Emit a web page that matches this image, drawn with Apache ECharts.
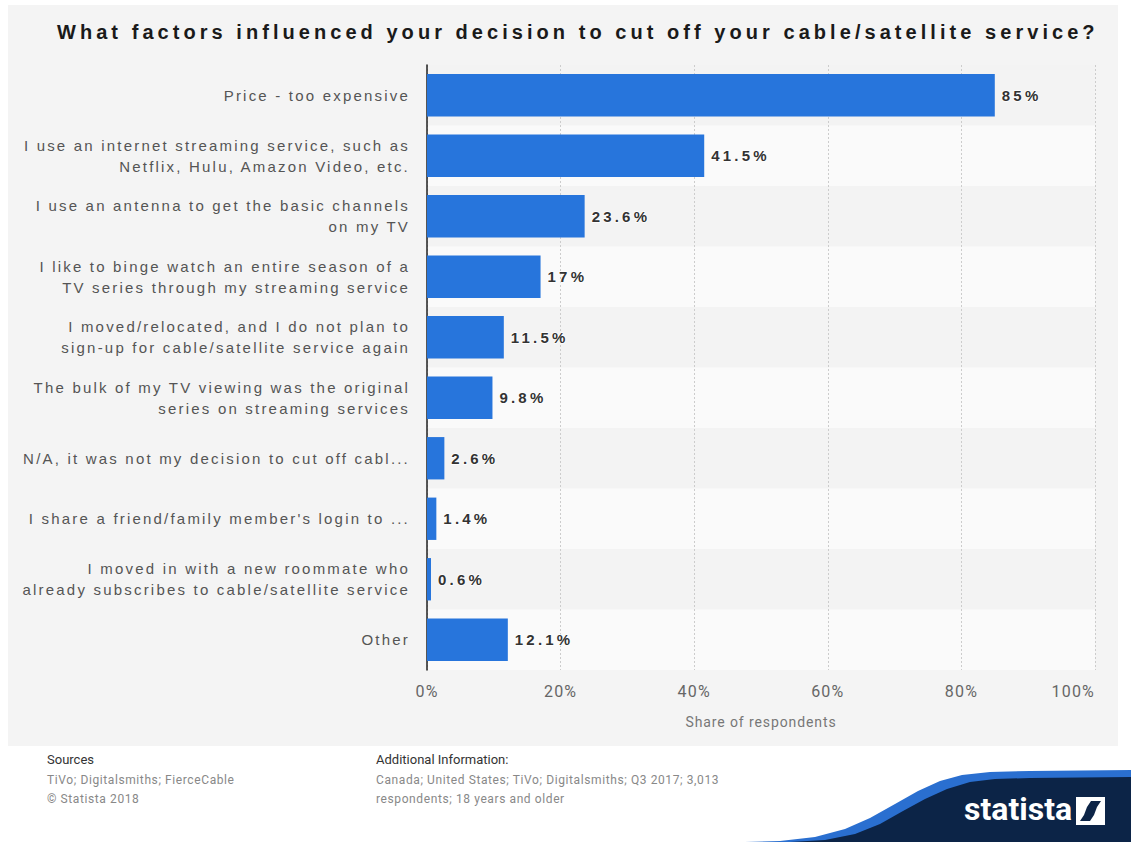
<!DOCTYPE html>
<html>
<head>
<meta charset="utf-8">
<script src="https://cdn.jsdelivr.net/npm/echarts@6/dist/echarts.min.js"></script>
<style>
  html, body { margin: 0; padding: 0; background: #fff; }
  #panel { position: absolute; left: 8px; top: 5px; width: 1110px; height: 741px; background: #f4f4f4; }
  #chart { position: absolute; left: 0; top: 0; width: 1131px; height: 842px; }
  /* spread the letters like the statista export does */
  #chart text[fill="#1a1a1a"] { letter-spacing: 4.05px; }
  #chart text[fill="#555555"] { letter-spacing: 2.2px; }
  #chart text[fill="#333333"] { letter-spacing: 3.2px; }
  #chart text[fill="#666666"] { letter-spacing: 1.2px; }
  #chart text[fill="#777777"] { letter-spacing: 0.9px; }
  #chart text[fill="#888888"] { letter-spacing: 0.6px; }
</style>
</head>
<body>
<div id="panel"></div>
<div id="chart"></div>
<script>
const categories = [
  'Price - too expensive',
  'I use an internet streaming service, such as\nNetflix, Hulu, Amazon Video, etc.',
  'I use an antenna to get the basic channels\non my TV',
  'I like to binge watch an entire season of a\nTV series through my streaming service',
  'I moved/relocated, and I do not plan to\nsign-up for cable/satellite service again',
  'The bulk of my TV viewing was the original\nseries on streaming services',
  'N/A, it was not my decision to cut off cabl...',
  'I share a friend/family member\'s login to ...',
  'I moved in with a new roommate who\nalready subscribes to cable/satellite service',
  'Other'
];
const shares = [85, 41.5, 23.6, 17, 11.5, 9.8, 2.6, 1.4, 0.6, 12.1];
const xTicks = [0, 20, 40, 60, 80, 100];

const chart = echarts.init(document.getElementById('chart'), null, { renderer: 'svg' });

chart.setOption({
  backgroundColor: 'transparent',
  animation: false,
  title: {
    text: 'What factors influenced your decision to cut off your cable/satellite service?',
    left: 52,
    top: 17,
    textStyle: { fontFamily: 'Liberation Sans', fontWeight: 'bold', fontSize: 20, color: '#1a1a1a' }
  },
  grid: { left: 427, right: 36, top: 65, bottom: 172 },
  xAxis: {
    type: 'value',
    min: xTicks[0],
    max: xTicks[xTicks.length - 1],
    interval: 20,
    name: 'Share of respondents',
    nameLocation: 'middle',
    nameGap: 45,
    nameTextStyle: { fontFamily: 'Roboto', fontSize: 14, color: '#777777' },
    axisLine: { show: false },
    axisTick: { show: false },
    axisLabel: {
      formatter: '{value}%',
      margin: 13,
      fontFamily: 'Roboto',
      fontSize: 16,
      color: '#666666',
      alignMaxLabel: 'right'
    },
    splitLine: { show: true, lineStyle: { type: [2, 2], color: '#cccccc', width: 1 } }
  },
  yAxis: {
    type: 'category',
    inverse: true,
    data: categories,
    axisLine: { show: true, lineStyle: { color: '#222222', width: 1.5 } },
    axisTick: { show: false },
    splitArea: { show: true, areaStyle: { color: ['#f3f3f3', '#fafafa'] } },
    axisLabel: {
      margin: 17,
      fontFamily: 'Liberation Sans',
      fontSize: 15,
      lineHeight: 21,
      color: '#555555',
      align: 'right'
    }
  },
  series: [{
    type: 'bar',
    data: shares,
    barWidth: '70%',
    itemStyle: { color: '#2775dc' },
    label: {
      show: true,
      position: 'right',
      distance: 7,
      formatter: '{c}%',
      fontFamily: 'Liberation Sans',
      fontWeight: 'bold',
      fontSize: 15,
      color: '#333333',
      textBorderColor: '#ffffff',
      textBorderWidth: 1.5
    }
  }],
  graphic: [
    { type: 'text', left: 47, top: 753, style: { text: 'Sources', fontFamily: 'Roboto', fontSize: 13, fill: '#333' } },
    { type: 'text', left: 47, top: 770, style: { text: 'TiVo; Digitalsmiths; FierceCable\n© Statista 2018', fontFamily: 'Roboto', fontSize: 12, lineHeight: 19, fill: '#888888' } },
    { type: 'text', left: 376, top: 753, style: { text: 'Additional Information:', fontFamily: 'Roboto', fontSize: 13, fill: '#333' } },
    { type: 'text', left: 376, top: 770, style: { text: 'Canada; United States; TiVo; Digitalsmiths; Q3 2017; 3,013\nrespondents; 18 years and older', fontFamily: 'Roboto', fontSize: 12, lineHeight: 19, fill: '#888888' } },
    {
      type: 'polygon',
      shape: { points: [[745, 842], [780, 841], [815, 837], [845, 829], [870, 818], [895, 804], [918, 791], [940, 781], [962, 775], [990, 772], [1030, 771], [1131, 770], [1131, 842]] },
      style: { fill: '#2a6fd0' }
    },
    {
      type: 'polygon',
      shape: { points: [[790, 842], [825, 840], [855, 834], [880, 824], [903, 811], [925, 799], [947, 789], [970, 782], [995, 779], [1030, 778], [1131, 777], [1131, 842]] },
      style: { fill: '#0c2447' }
    },
    { type: 'text', left: 964, top: 793, style: { text: 'statista', fontFamily: 'Roboto', fontWeight: 'bold', fontSize: 32, fill: '#ffffff' } },
    { type: 'rect', shape: { x: 1076, y: 797, width: 29, height: 28 }, style: { fill: '#ffffff' } },
    {
      type: 'polygon',
      shape: { points: [[1080, 821], [1090, 821], [1094, 815], [1097, 807], [1101, 801], [1091, 801], [1087, 807], [1084, 815]] },
      style: { fill: '#0c2447' }
    }
  ]
});
</script>
</body>
</html>
